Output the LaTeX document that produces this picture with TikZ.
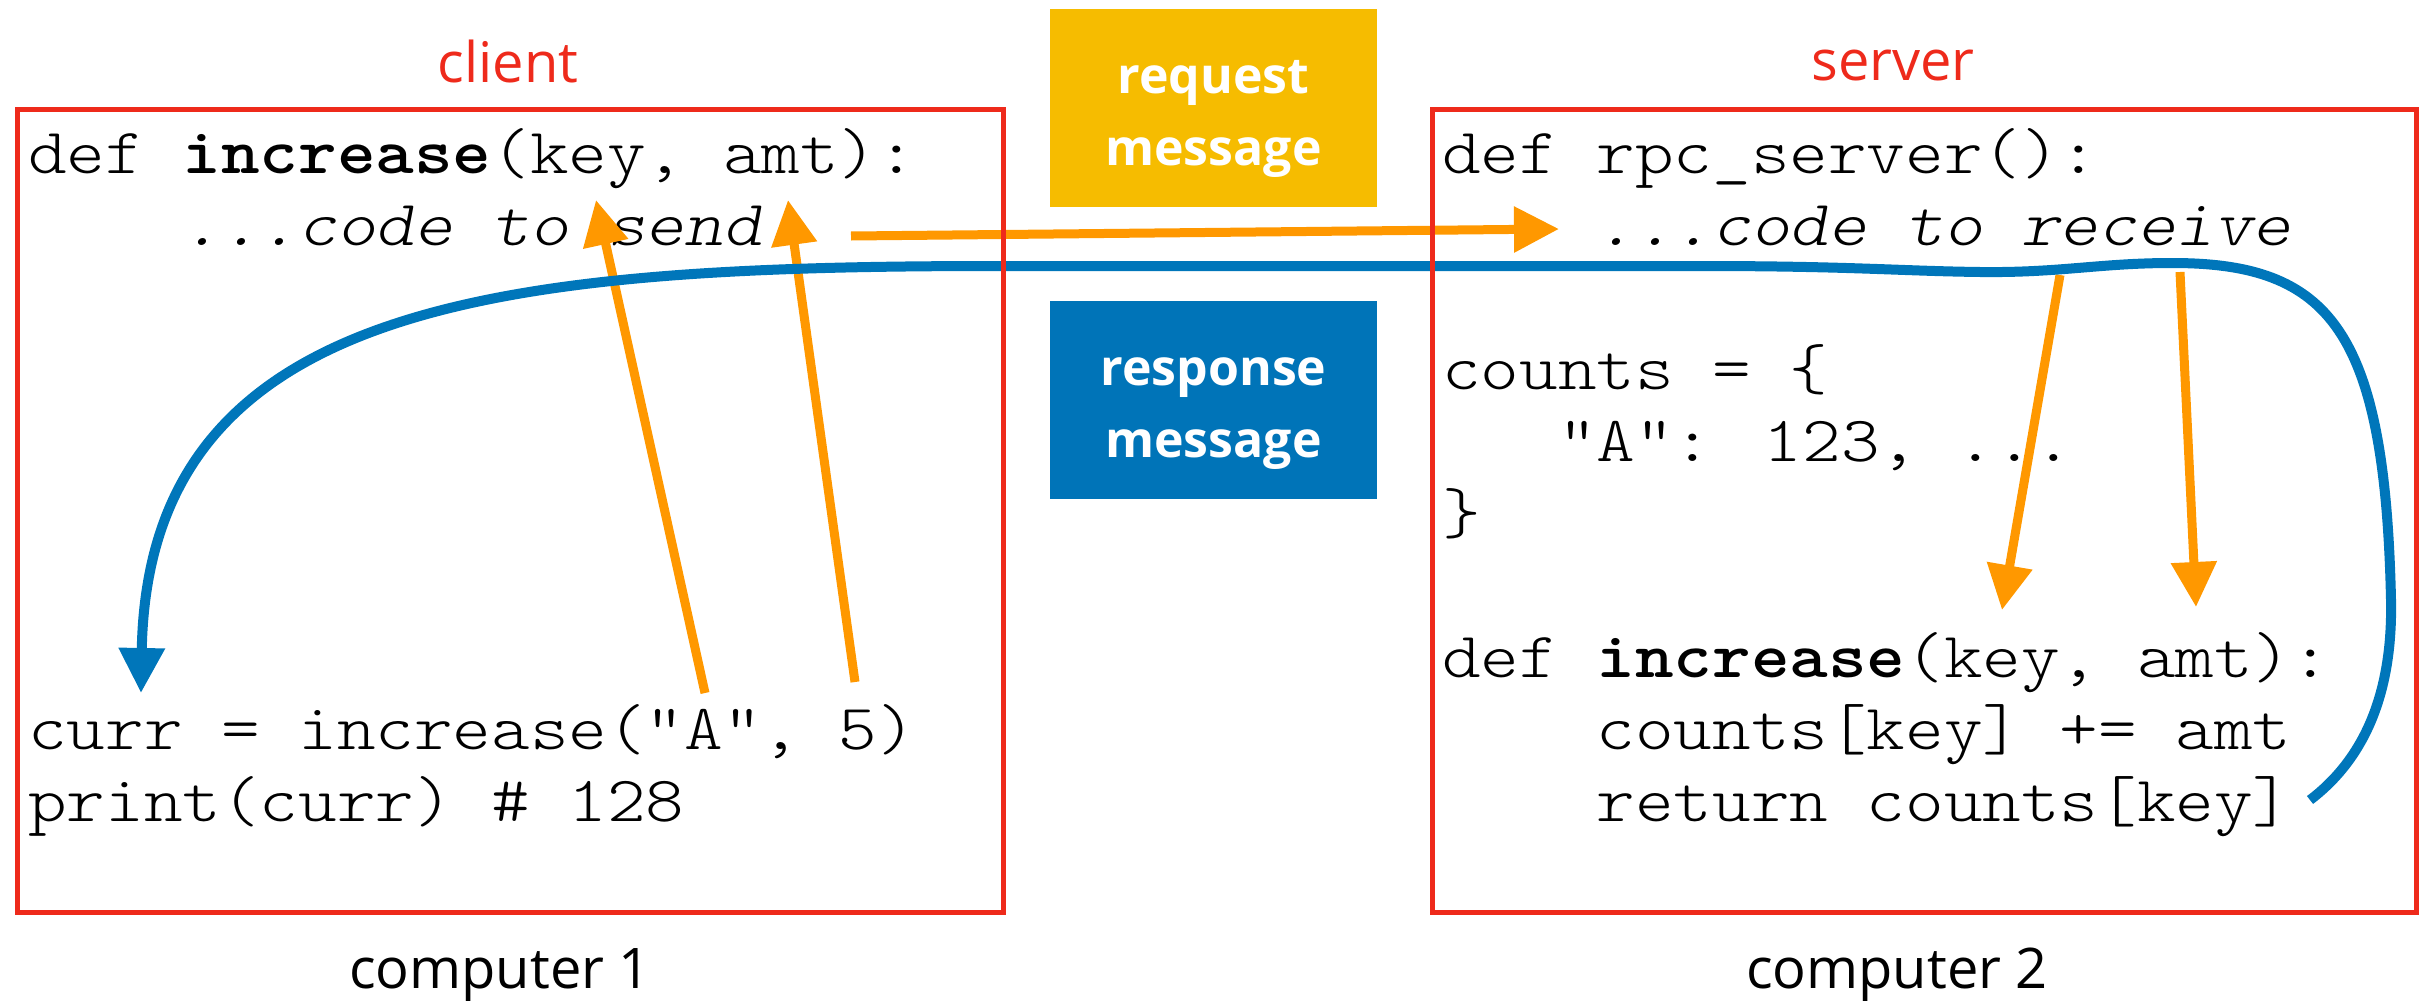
\documentclass[tikz,border=0pt]{standalone}
\usepackage{fontspec}
\usetikzlibrary{arrows.meta}
\newfontfamily\codefont{lmmonolt10-regular.otf}[BoldFont=lmmonolt10-bold.otf,ItalicFont=lmmonolt10-oblique.otf,FakeStretch=1.14]
\newfontfamily\labelfont{Open Sans}
\definecolor{boxred}{RGB}{238,42,27}
\definecolor{arrorange}{RGB}{255,152,0}
\definecolor{arrblue}{RGB}{0,118,186}
\definecolor{msgyellow}{RGB}{246,188,0}
\definecolor{msgblue}{RGB}{0,116,184}
\begin{document}
\begin{tikzpicture}[x=1pt,y=-1pt,
  code/.style={font=\codefont\fontsize{64.5}{72}\selectfont, anchor=base west, inner sep=0pt},
  lab/.style={font=\labelfont\fontsize{56}{66}\selectfont, anchor=base, inner sep=0pt},
  msgtext/.style={font=\labelfont\bfseries\fontsize{50}{60}\selectfont, text=white, anchor=base, inner sep=0pt},
  msgbox/.style={draw=none, minimum width=327pt, minimum height=198pt, inner sep=0pt, anchor=north west},
  compbox/.style={draw=boxred, line width=5pt, minimum height=803pt, inner sep=0pt, anchor=north west},
  oarrow/.style={draw=arrorange, line width=9pt, -{Triangle[length=45pt,width=44pt]}},
  barrow/.style={draw=arrblue, line width=10pt, -{Triangle[length=45pt,width=44pt]}}
]
\useasboundingbox (0,0) rectangle (2421,1001);

% titles
\node[lab, text=boxred] (client) at (508,82) {client};
\node[lab, text=boxred] (server) at (1893,80) {server};
\node[lab] (comp1) at (500,988) {computer 1};
\node[lab] (comp2) at (1897,988) {computer 2};

% message boxes
\node[msgbox, fill=msgyellow] (req) at (1050,9) {};
\node[msgtext] (reqa) at (1213.5,93) {request};
\node[msgtext] (reqb) at (1213.5,165) {message};
\node[msgbox, fill=msgblue] (resp) at (1050,301) {};
\node[msgtext] (respa) at (1213.5,385) {response};
\node[msgtext] (respb) at (1213.5,457) {message};

% client code
\node[code] (c1) at (28,173) {def \textbf{increase}(key, amt):};
\node[code] (c2) at (28,245) {\phantom{xxxx}\textit{...code to send}};
\node[code] (c3) at (28,749) {curr = increase("A", 5)};
\node[code] (c4) at (28,821) {print(curr) \# 128};

% server code
\node[code] (s1) at (1442,173) {def rpc\_server():};
\node[code] (s2) at (1442,245) {\phantom{xxxx}\textit{...code to receive}};
\node[code] (s3) at (1442,389) {counts = \{};
\node[code] (s4) at (1442,461) {\phantom{xxx}"A": 123, ...};
\node[code] (s5) at (1442,533) {\}};
\node[code] (s6) at (1442,677) {def \textbf{increase}(key, amt):};
\node[code] (s7) at (1442,749) {\phantom{xxxx}counts[key] += amt};
\node[code] (s8) at (1442,821) {\phantom{xxxx}return counts[key]};

% connector end points
\coordinate (sendTail) at (851,236);
\coordinate (recvTip) at (1559,229);
\coordinate (aTail) at (705,693);
\coordinate (keyTip) at (596,200);
\coordinate (fiveTail) at (855,682);
\coordinate (amtTip) at (788,200);
\coordinate (keyOut) at (2060,275);
\coordinate (keyIn) at (2002,610);
\coordinate (amtOut) at (2180,272);
\coordinate (amtIn) at (2196,607);
\coordinate (retEnd) at (2310,800);
\coordinate (currTip) at (141,693);

% orange (request) arrows
\draw[oarrow] (aTail) -- (keyTip);
\draw[oarrow] (fiveTail) -- (amtTip);
\draw[oarrow] (sendTail) -- (recvTip);
\draw[oarrow] (keyOut) -- (keyIn);
\draw[oarrow] (amtOut) -- (amtIn);

% blue (response) arrow
\draw[barrow] (retEnd) .. controls (2360,762) and (2393,700) .. (2391,600)
  .. controls (2385,330) and (2330,263) .. (2172,263)
  .. controls (2100,263) and (2060,273) .. (1980,272)
  .. controls (1900,271) and (1850,266) .. (1700,266)
  -- (1000,266)
  .. controls (500,266) and (148,300) .. (currTip);

% computer boxes
\node[compbox, minimum width=986pt] (box1) at (15,107) {};
\node[compbox, minimum width=984pt] (box2) at (1430,107) {};
\end{tikzpicture}
\end{document}
